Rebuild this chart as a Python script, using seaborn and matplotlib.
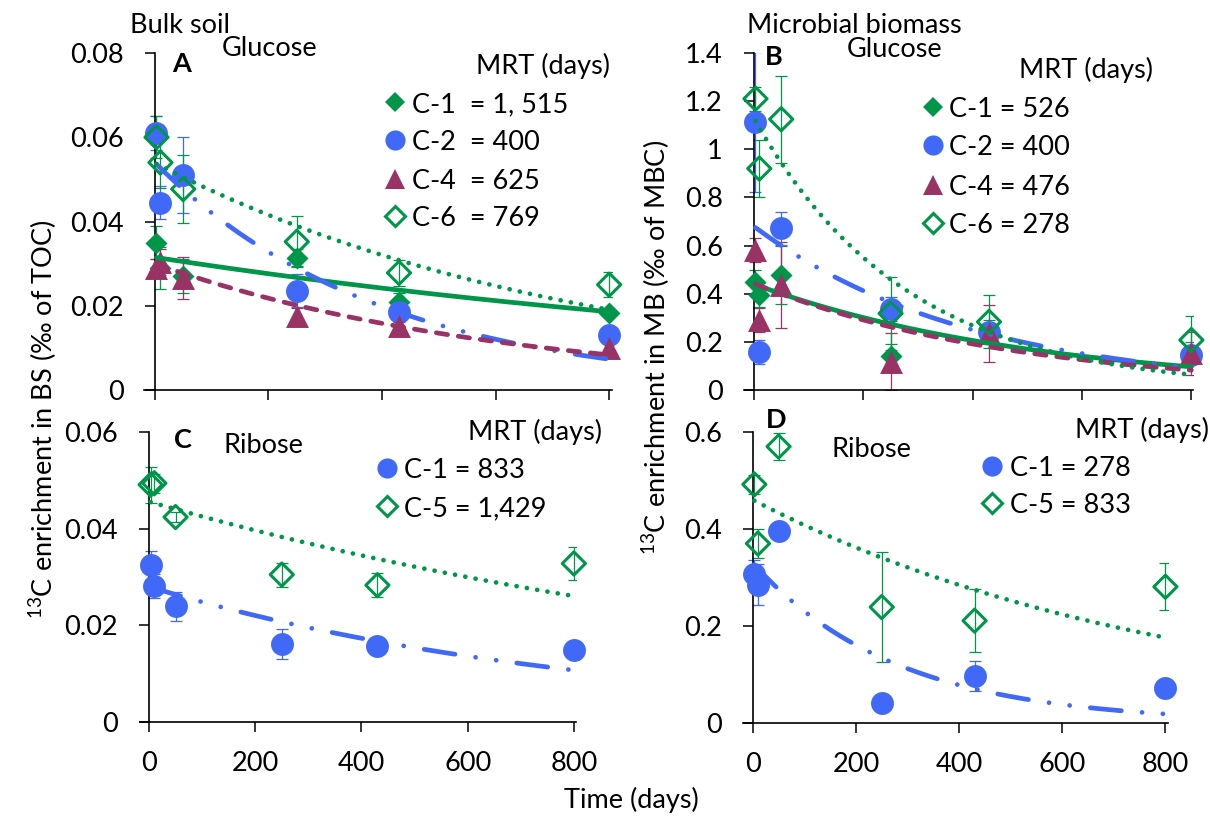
import numpy as np
import matplotlib
matplotlib.use("Agg")
import matplotlib.pyplot as plt
import seaborn as sns
from matplotlib.lines import Line2D
from matplotlib.ticker import FuncFormatter

# ---------------------------------------------------------------- data
days = [3, 10, 50, 250, 430, 800]

# A: bulk soil, glucose (per mille of TOC)
bs_glc_c1 = [0.035, 0.029, 0.027, 0.0314, 0.021, 0.0183]
bs_glc_c2 = [0.061, 0.0445, 0.051, 0.0236, 0.0185, 0.013]
bs_glc_c4 = [0.029, 0.0304, 0.0266, 0.0175, 0.0151, 0.0099]
bs_glc_c6 = [0.060, 0.054, 0.0477, 0.0352, 0.0278, 0.025]
bs_glc_c1_sd = [0.004, 0.005, 0.004, 0.002, 0.002, 0.001]
bs_glc_c2_sd = [0.004, 0.004, 0.009, 0.004, 0.002, 0.001]
bs_glc_c4_sd = [0.002, 0.003, 0.005, 0.002, 0.001, 0.001]
bs_glc_c6_sd = [0.005, 0.006, 0.008, 0.006, 0.003, 0.003]
bs_glc_a = [0.0315, 0.054, 0.030, 0.0539]
bs_glc_mrt = [1515, 400, 625, 769]
bs_glc_labels = ["C-1  = 1, 515", "C-2  = 400", "C-4  = 625", "C-6  = 769"]

# B: microbial biomass, glucose (per mille of MBC)
mb_glc_c1 = [0.45, 0.395, 0.478, 0.14, 0.24, 0.15]
mb_glc_c2 = [1.114, 0.158, 0.671, 0.335, 0.239, 0.145]
mb_glc_c4 = [0.58, 0.29, 0.436, 0.118, 0.235, 0.152]
mb_glc_c6 = [1.21, 0.92, 1.125, 0.318, 0.283, 0.2075]
mb_glc_c1_sd = [0.05, 0.05, 0.12, 0.05, 0.05, 0.05]
mb_glc_c2_sd = [0.29, 0.05, 0.07, 0.05, 0.04, 0.03]
mb_glc_c4_sd = [0.05, 0.05, 0.18, 0.12, 0.12, 0.09]
mb_glc_c6_sd = [0.05, 0.12, 0.18, 0.15, 0.11, 0.10]
mb_glc_a = [0.44, 0.68, 0.443, 1.13]
mb_glc_mrt = [526, 400, 476, 278]
mb_glc_labels = ["C-1 = 526", "C-2 = 400", "C-4 = 476", "C-6 = 278"]

# C: bulk soil, ribose
bs_rib_c1 = [0.0324, 0.0281, 0.0239, 0.0162, 0.0157, 0.0148]
bs_rib_c5 = [0.0491, 0.0494, 0.0424, 0.0305, 0.0283, 0.0328]
bs_rib_c1_sd = [0.003, 0.0025, 0.0029, 0.0031, 0.001, 0.001]
bs_rib_c5_sd = [0.0037, 0.002, 0.001, 0.0025, 0.0025, 0.0035]
bs_rib_a = [0.028, 0.0456]
bs_rib_mrt = [833, 1429]
bs_rib_labels = ["C-1 = 833", "C-5 = 1,429"]

# D: microbial biomass, ribose
mb_rib_c1 = [0.307, 0.285, 0.396, 0.041, 0.097, 0.073]
mb_rib_c5 = [0.492, 0.370, 0.570, 0.239, 0.211, 0.281]
mb_rib_c1_sd = [0.03, 0.042, 0.01, 0.01, 0.03, 0.01]
mb_rib_c5_sd = [0.02, 0.03, 0.027, 0.114, 0.065, 0.049]
mb_rib_a = [0.33, 0.46]
mb_rib_mrt = [278, 833]
mb_rib_labels = ["C-1 = 278", "C-5 = 833"]

x_ticks = [0, 200, 400, 600, 800]

# ---------------------------------------------------------------- style
sns.set_theme(style="white")
plt.rcParams["font.family"] = ["Lato", "DejaVu Sans"]
plt.rcParams["mathtext.fontset"] = "custom"
plt.rcParams["mathtext.rm"] = "Lato"
plt.rcParams["mathtext.default"] = "regular"
plt.rcParams["text.color"] = "black"

FS = 19.5
LW = 3.4
GREEN = "#00964A"
BLUE = "#4169F7"
PURPLE = "#993366"

W, H = 1210, 819
fig = plt.figure(figsize=(W / 100, H / 100), dpi=100)


def px_axes(x0, y0, x1, y1):
    return fig.add_axes([x0 / W, 1 - y1 / H, (x1 - x0) / W, (y1 - y0) / H])


# series styles: marker, size, filled, colour, line style
STY = {
    "C-1": dict(marker="D", ms=11.2, filled=True, color=GREEN, ls="-"),
    "C-2": dict(marker="o", ms=16.5, filled=True, color=BLUE,
                ls=(0, (6.6, 4.4, 0.01, 4.4, 0.01, 4.4))),
    "C-4": dict(marker="^", ms=16.5, filled=True, color=PURPLE, ls=(0, (2.4, 2.3))),
    "C-6": dict(marker="D", ms=11.8, filled=False, color=GREEN, ls=(0, (0.01, 2.2))),
}
STY_RIB = {
    "C-1": STY["C-2"],
    "C-5": STY["C-6"],
}


def draw_series(ax, vals, sd, a, mrt, st):
    ax.errorbar(days, vals, yerr=sd, fmt="none", ecolor=st["color"],
                elinewidth=0.9, capsize=4.3, capthick=0.9, zorder=2.5)
    sns.scatterplot(x=days, y=vals, ax=ax, marker=st["marker"], s=st["ms"] ** 2,
                    color=st["color"], linewidth=0 if st["filled"] else 2.2,
                    edgecolor=st["color"], zorder=3, clip_on=False, legend=False)
    coll = ax.collections[-1]
    if not st["filled"]:
        coll.set_facecolor("none")
        coll.set_edgecolor(st["color"])
    # exponential decay trend line from the mean residence time
    t = np.linspace(days[0], 800, 300)
    fit = a * np.exp(-t / mrt)
    sns.lineplot(x=t, y=fit, ax=ax, color=st["color"], lw=LW,
                 linestyle=st["ls"], zorder=4)
    ln = ax.lines[-1]
    ln.set_dash_capstyle("round")
    ln.set_solid_capstyle("round")
    ln.set_clip_on(False)


def setup(ax, xlim, ylim, yticks, show_xlabels):
    ax.set_xlim(*xlim)
    ax.set_ylim(*ylim)
    ax.set_facecolor("none")
    ax.grid(False)
    for s in ["top", "right"]:
        ax.spines[s].set_visible(False)
    ax.spines["left"].set_position(("data", 0))
    for s in ["left", "bottom"]:
        ax.spines[s].set_color("black")
        ax.spines[s].set_linewidth(1.2)
    ax.set_xticks(x_ticks)
    ax.set_yticks(yticks)
    ax.tick_params(axis="both", which="major", direction="out", length=7,
                   width=1.1, color="black", labelsize=FS, labelcolor="black",
                   bottom=True, left=True, pad=15.5)
    ax.yaxis.set_major_formatter(FuncFormatter(lambda v, p: f"{v:g}"))
    if not show_xlabels:
        ax.set_xticklabels([])
    else:
        ax.tick_params(axis="x", pad=14)


def legend_keys(xm, xt, rows, labels, styles):
    for y, lab, st in zip(rows, labels, styles):
        ms = st["ms"] * 0.88
        fig.add_artist(Line2D([xm / W], [1 - y / H], transform=fig.transFigure,
                              marker=st["marker"], ms=ms, ls="",
                              mfc=st["color"] if st["filled"] else "none",
                              mec=st["color"], mew=0 if st["filled"] else 2.2))
        fig.text(xt / W, 1 - y / H, lab, fontsize=FS, ha="left", va="center_baseline")


def ftext(x, y, s, **kw):
    kw.setdefault("fontsize", FS)
    kw.setdefault("va", "center_baseline")
    fig.text(x / W, 1 - y / H, s, **kw)


# ---------------------------------------------------------------- panel A
axA = px_axes(144, 53, 612, 390)
styA = [STY["C-1"], STY["C-2"], STY["C-4"], STY["C-6"]]
for vals, sd, a, m, st in zip([bs_glc_c1, bs_glc_c2, bs_glc_c4, bs_glc_c6],
                              [bs_glc_c1_sd, bs_glc_c2_sd, bs_glc_c4_sd, bs_glc_c6_sd],
                              bs_glc_a, bs_glc_mrt, styA):
    draw_series(axA, vals, sd, a, m, st)
setup(axA, (-19, 805), (0, 0.08), [0, 0.02, 0.04, 0.06, 0.08], False)

# ---------------------------------------------------------------- panel B
axB = px_axes(744, 53, 1193, 390)
for vals, sd, a, m, st in zip([mb_glc_c1, mb_glc_c2, mb_glc_c4, mb_glc_c6],
                              [mb_glc_c1_sd, mb_glc_c2_sd, mb_glc_c4_sd, mb_glc_c6_sd],
                              mb_glc_a, mb_glc_mrt, styA):
    draw_series(axB, vals, sd, a, m, st)
setup(axB, (-18, 803), (0, 1.4), [0, 0.2, 0.4, 0.6, 0.8, 1.0, 1.2, 1.4], False)

# ---------------------------------------------------------------- panel C
axC = px_axes(140, 432, 576, 722)
styR = [STY_RIB["C-1"], STY_RIB["C-5"]]
for vals, sd, a, m, st in zip([bs_rib_c1, bs_rib_c5], [bs_rib_c1_sd, bs_rib_c5_sd],
                              bs_rib_a, bs_rib_mrt, styR):
    draw_series(axC, vals, sd, a, m, st)
setup(axC, (-17, 804), (0, 0.06), [0, 0.02, 0.04, 0.06], True)

# ---------------------------------------------------------------- panel D
axD = px_axes(743, 432, 1168, 723)
for vals, sd, a, m, st in zip([mb_rib_c1, mb_rib_c5], [mb_rib_c1_sd, mb_rib_c5_sd],
                              mb_rib_a, mb_rib_mrt, styR):
    draw_series(axD, vals, sd, a, m, st)
setup(axD, (-19, 805), (0, 0.6), [0, 0.2, 0.4, 0.6], True)

# ---------------------------------------------------------------- annotations
ftext(130, 23, "Bulk soil", ha="left")
ftext(222, 46, "Glucose", ha="left")
ftext(172, 62, "A", ha="left", fontweight="bold")
ftext(610, 63, "MRT (days)", ha="right")
legend_keys(395, 412, [102, 140, 179, 216], bs_glc_labels, styA)

ftext(747, 23, "Microbial biomass", ha="left")
ftext(847, 47, "Glucose", ha="left")
ftext(765, 55, "B", ha="left", fontweight="bold")
ftext(1153, 67, "MRT (days)", ha="right")
legend_keys(933, 949, [107, 145, 185, 223], mb_glc_labels, styA)

ftext(174, 438, "C", ha="left", fontweight="bold")
ftext(223, 443, "Ribose", ha="left")
ftext(602, 429, "MRT (days)", ha="right")
legend_keys(387, 404, [468, 506], bs_rib_labels, styR)

ftext(766, 418, "D", ha="left", fontweight="bold")
ftext(831, 447, "Ribose", ha="left")
ftext(1209, 427, "MRT (days)", ha="right")
legend_keys(992, 1010, [466, 503], mb_rib_labels, styR)

fig.text(43 / W, 1 - 419 / H, "$^{13}$C enrichment in BS (‰ of TOC)",
         rotation=90, fontsize=FS, ha="center", va="center")
fig.text(656 / W, 1 - 347 / H, "$^{13}$C enrichment in MB (‰ of MBC)",
         rotation=90, fontsize=FS, ha="center", va="center")
fig.text(631 / W, 1 - 800 / H, "Time (days)", fontsize=FS, ha="center", va="center")

fig.savefig("out.png", dpi=100, facecolor="white")
